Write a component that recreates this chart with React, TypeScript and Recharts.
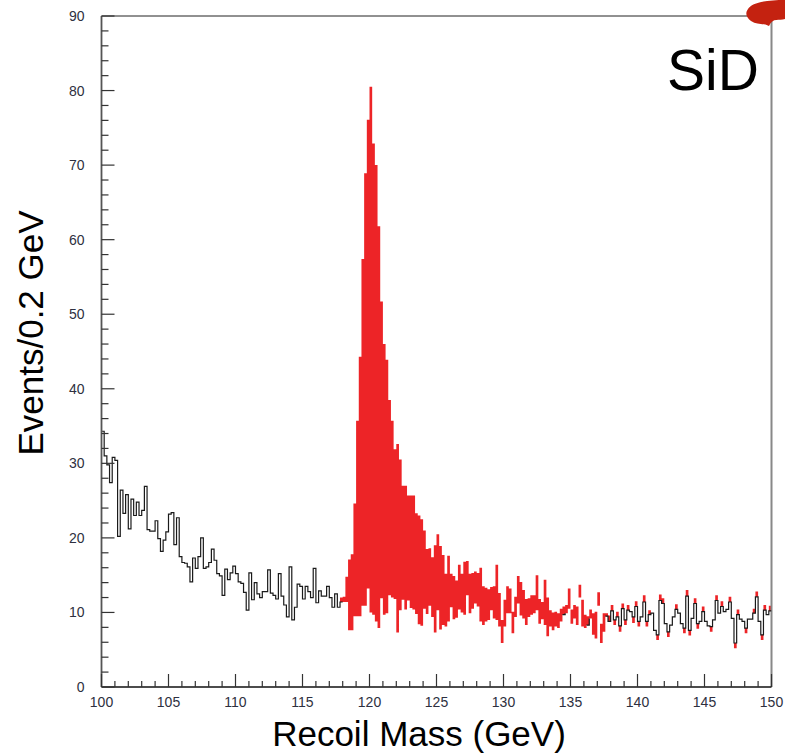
import { ComposedChart, Area, Line, XAxis, YAxis, ReferenceLine } from 'recharts';

// Recoil mass histogram, 0.2 GeV bins from 100 to 150 GeV (250 bins)
const BIN_START = 100;
const BIN_WIDTH = 0.2;

// black histogram (background) - bin contents
const background = [
  34.3, 31, 29.8, 27.4, 30.8, 30.4, 20.2, 26.4, 23.3, 25.8,
  21.2, 25.2, 23, 24.8, 23, 23.7, 26.9, 21.1, 20.9, 20.9,
  22.3, 19.9, 18.2, 19.7, 20.8, 23.2, 23.4, 19.1, 22.7, 17.5,
  16.7, 16.6, 16.1, 14.1, 17.3, 15.9, 17.5, 20, 15.9, 16.1,
  16.7, 18.5, 17, 15.2, 14.9, 12.3, 15.8, 14.4, 15.3, 16.2,
  15.2, 14.1, 13.9, 12.7, 10.3, 15.3, 11.7, 14, 12.5, 12,
  12.8, 12.8, 15.7, 12.6, 12.3, 11.8, 15.2, 12.2, 11, 9.4,
  16.1, 9, 10.7, 13.8, 13.5, 11.8, 13.5, 12.8, 12, 15.9,
  11.3, 12.9, 12.2, 12.2, 13.5, 12, 10.7, 12.5, 10.7, 11.4,
  11.4, 11.4, 7.6, 7.6, 9.5, 9.5, 9.5, 10.9, 10.9, 13.2,
  10, 9.7, 8.8, 7.9, 11.9, 9.7, 9.9, 12.3, 12, 11.8,
  7.3, 10.3, 11.7, 10.4, 11.6, 10.6, 10.4, 9.8, 8.4, 8.2,
  10.5, 9.8, 10.9, 9.4, 7.3, 10.3, 7.7, 8.3, 8.1, 8.8,
  10.7, 9.1, 9.3, 10.4, 10, 9.7, 12.3, 9.9, 10.5, 11.2,
  10.8, 8.8, 8.3, 8.8, 9.0, 10.3, 9.2, 9, 8.1, 5.9,
  8.1, 9.9, 9.9, 7.2, 9.4, 11.2, 9.6, 9.2, 8.3, 9.4,
  9.7, 9.9, 10.3, 8.5, 9.1, 8.3, 6.8, 8.1, 7.6, 8.1,
  7.9, 8.8, 9.7, 9.9, 10.5, 8.5, 9.2, 8.3, 12, 8.1,
  7.9, 8.3, 9.2, 7, 6.5, 10.9, 5.9, 7.4, 9.5, 8.8,
  10.2, 9, 9.4, 8.2, 10.5, 9, 10.3, 10.1, 9.4, 10.8,
  8.8, 9.4, 11.4, 8.8, 9.7, 9.9, 7.6, 7, 11.6, 11.2,
  8.5, 7.4, 8.3, 9.4, 10.4, 9.9, 8.5, 7.9, 12.2, 7.6,
  9.2, 11.2, 8.5, 8.8, 10.1, 8.8, 8.2, 8.1, 9, 11.6,
  9.9, 10.8, 10.1, 10.4, 11.4, 9.2, 5.9, 9.7, 9.1, 8.8,
  7.9, 9.1, 9.1, 9.9, 12.1, 8.8, 7, 10.3, 9.7, 10.2,
];

// red histogram (signal + background)
const total = [
  34.3, 31, 29.8, 27.4, 30.8, 30.4, 20.2, 26.4, 23.3, 25.8,
  21.2, 25.2, 23, 24.8, 23, 23.7, 26.9, 21.1, 20.9, 20.9,
  22.3, 19.9, 18.2, 19.7, 20.8, 23.2, 23.4, 19.1, 22.7, 17.5,
  16.7, 16.6, 16.1, 14.1, 17.3, 15.9, 17.5, 20, 15.9, 16.1,
  16.7, 18.5, 17, 15.2, 14.9, 12.3, 15.8, 14.4, 15.3, 16.2,
  15.2, 14.1, 13.9, 12.7, 10.3, 15.3, 11.7, 14, 12.5, 12,
  12.8, 12.8, 15.7, 12.6, 12.3, 11.8, 15.2, 12.2, 11, 9.4,
  16.1, 9, 10.7, 13.8, 13.5, 11.8, 13.5, 12.8, 12, 15.9,
  11.3, 12.9, 12.2, 12.2, 13.5, 12, 10.7, 12.5, 10.7, 12,
  12.1, 14.8, 17.1, 17.8, 24.6, 35.7, 44.3, 57.4, 68.9, 76.1,
  80.5, 72.9, 70, 61.8, 51.7, 46, 43.9, 38.5, 35.7, 31.9,
  32.6, 30.5, 27, 27, 25.7, 25.7, 25.7, 23.3, 23, 22.5,
  21, 18.5, 18.6, 17.4, 19, 20.5, 18.9, 17.7, 15.2, 17.6,
  15.2, 14.9, 14.3, 16.4, 15.2, 16.8, 16.9, 15.2, 15.3, 15.5,
  15.3, 16, 13.5, 13.3, 13.1, 13.4, 13.5, 16.4, 12.6, 9,
  11.7, 13.5, 13.2, 10.1, 12.1, 14.9, 14.1, 13, 11.8, 11.9,
  12.3, 12.3, 15, 11.8, 11.4, 14.4, 12, 10.3, 10, 10.1,
  9.9, 10.5, 10.8, 11, 13.2, 10.4, 11, 10.8, 13.7, 11.7,
  9.7, 9.5, 10.4, 9.9, 10.1, 12.7, 8.5, 9.9, 9.9, 9.6,
  11, 8.3, 10.1, 7.4, 11.2, 8.3, 11, 10.1, 8.6, 11.5,
  8.1, 9.4, 12.3, 8.1, 10.3, 9.9, 7.6, 6.3, 12.4, 11.9,
  8.5, 6.7, 8.3, 9.4, 11.1, 9.9, 8.5, 7.2, 13, 6.9,
  9.2, 11.9, 7.8, 8.8, 10.8, 8.8, 8.2, 7.4, 9, 12.3,
  9.9, 11.5, 10.1, 10.4, 12.1, 9.2, 5.2, 10.4, 9.1, 8.8,
  7.2, 9.1, 9.1, 10.5, 12.8, 8.8, 6.3, 11, 9.7, 10.9,
];

const xTicks = Array.from({ length: 51 }, (_, i) => 100 + i);
const yTicks = Array.from({ length: 46 }, (_, i) => i * 2);

const RED = '#ed2427';
const FONT = '"Liberation Sans", Arial, Helvetica, sans-serif';

// red band spans between the two histograms; black outline shown where they nearly agree
const rows = background.map((b, i) => {
  const t = total[i];
  const diff = Math.abs(t - b);
  return {
    x: +(BIN_START + BIN_WIDTH * i).toFixed(1),
    low: Math.min(t, b),
    band: diff,
    outline: diff < 1.5 ? b : null,
  };
});
const data = [...rows, { ...rows[rows.length - 1], x: 150 }];

const XTick = ({ x, y, payload }: any) => {
  const major = payload.value % 5 === 0;
  return (
    <g>
      <line x1={x} x2={x} y1={y} y2={y - (major ? 13 : 6)} stroke="#333" strokeWidth={1.2} />
      {major && (
        <text x={x} y={y + 20} textAnchor="middle" fontSize={14} fontFamily={FONT} fill="#2e3040">
          {payload.value}
        </text>
      )}
    </g>
  );
};

const YTick = ({ x, y, payload }: any) => {
  const major = payload.value % 10 === 0;
  return (
    <g>
      <line x1={x} x2={x + (major ? 13 : 7)} y1={y} y2={y} stroke="#333" strokeWidth={1.2} />
      {major && (
        <text x={x - 17} y={y + 5} textAnchor="end" fontSize={14} fontFamily={FONT} fill="#2e3040">
          {payload.value}
        </text>
      )}
    </g>
  );
};

export default function App() {
  return (
    <div style={{ position: 'absolute', left: 0, top: 0, width: 785, height: 756, background: '#fff' }}>
      <ComposedChart
        width={785}
        height={756}
        data={data}
        margin={{ top: 16, right: 13.5, bottom: 39, left: 61.5 }}
      >
        <XAxis
          dataKey="x"
          type="number"
          domain={[100, 150]}
          ticks={xTicks}
          interval={0}
          height={30}
          tickSize={0}
          tickMargin={0}
          tick={<XTick />}
          axisLine={{ stroke: '#111', strokeWidth: 1.4 }}
          allowDataOverflow
        />
        <YAxis
          type="number"
          domain={[0, 90]}
          ticks={yTicks}
          interval={0}
          width={40}
          tickSize={0}
          tickMargin={0}
          tick={<YTick />}
          axisLine={{ stroke: '#555', strokeWidth: 1.8 }}
          allowDataOverflow
        />
        <ReferenceLine y={90} stroke="#222" strokeWidth={1} />
        <ReferenceLine x={150} stroke="#888" strokeWidth={2} />
        <Area
          dataKey="low"
          stackId="h"
          type="stepAfter"
          fill="none"
          stroke="none"
          isAnimationActive={false}
        />
        <Area
          dataKey="band"
          stackId="h"
          type="stepAfter"
          fill={RED}
          fillOpacity={1}
          stroke="none"
          isAnimationActive={false}
        />
        <Line
          dataKey="outline"
          type="stepAfter"
          stroke="#1a1a1a"
          strokeWidth={1.2}
          dot={false}
          connectNulls={false}
          isAnimationActive={false}
        />
      </ComposedChart>
      <svg
        width={785}
        height={756}
        style={{ position: 'absolute', left: 0, top: 0, pointerEvents: 'none' }}
      >
        <path
          d="M748,9 C752,2 768,0 785,0 L785,19 C779,21 773,17 769,26 C763,23 757,25 751,21 C746,17 745,13 748,9 Z"
          fill="#c42210"
        />
        <text x={667} y={90} fontSize={57} fontFamily={FONT} fill="#000">
          SiD
        </text>
        <text x={419} y={746} textAnchor="middle" fontSize={35} fontFamily={FONT} fill="#000">
          Recoil Mass (GeV)
        </text>
        <text
          x={43}
          y={333}
          textAnchor="middle"
          fontSize={35}
          fontFamily={FONT}
          fill="#000"
          transform="rotate(-90, 43, 333)"
        >
          Events/0.2 GeV
        </text>
      </svg>
    </div>
  );
}
